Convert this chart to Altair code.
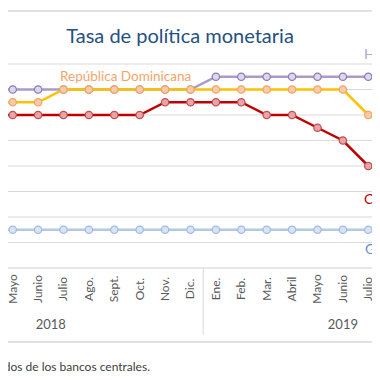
import altair as alt
import pandas as pd

# ---- data (month index 0 = Ene. 2018) ----
meses = ["Ene.", "Feb.", "Mar.", "Abril", "Mayo", "Junio", "Julio", "Ago.", "Sept.", "Oct.", "Nov.", "Dic.",
         "Ene.", "Feb.", "Mar.", "Abril", "Mayo", "Junio", "Julio", "Ago."]
indice = list(range(20))
honduras = [5.5, 5.5, 5.5, 5.5, 5.5, 5.5, 5.5, 5.5, 5.5, 5.5, 5.5, 5.5,
            5.75, 5.75, 5.75, 5.75, 5.75, 5.75, 5.75, 5.75]
rep_dominicana = [5.25, 5.25, 5.25, 5.25, 5.25, 5.25, 5.5, 5.5, 5.5, 5.5, 5.5, 5.5,
                  5.5, 5.5, 5.5, 5.5, 5.5, 5.5, 5.0, 4.75]
costa_rica = [5.0, 5.0, 5.0, 5.0, 5.0, 5.0, 5.0, 5.0, 5.0, 5.0, 5.25, 5.25,
              5.25, 5.25, 5.0, 5.0, 4.75, 4.5, 4.0, 4.0]
guatemala = [2.75, 2.75, 2.75, 2.75, 2.75, 2.75, 2.75, 2.75, 2.75, 2.75, 2.75, 2.75,
             2.75, 2.75, 2.75, 2.75, 2.75, 2.75, 2.75, 2.75]
anios = ["2018", "2019"]
anios_centro = [5.5, 17.0]
separador = [11.5]
grid_vals = [2.5, 3.0, 3.5, 4.0, 4.5, 5.0, 5.5, 6.0]
base_val = [2.0]
meses_visibles = (4, 18)  # labels shown inside the cropped frame

FONT = "Lato"
W, H = 364, 364

xscale = alt.Scale(domain=[3.815, 18.146], nice=False, zero=False)
yscale = alt.Scale(domain=[-0.039, 7.098], nice=False, zero=False)

series = [
    ("Honduras", honduras, "#a99bc9", "#ddd6ec", "#8a7db3"),
    ("República Dominicana", rep_dominicana, "#ffc000", "#f8cbad", "#f4a460"),
    ("Guatemala", guatemala, "#b4c7e7", "#dae3f3", "#9dbde3"),
    ("Costa Rica", costa_rica, "#c00000", "#e8a4a8", "#c0504d"),
]

layers = []

# gridlines
grid_df = pd.DataFrame({"v": grid_vals})
layers.append(alt.Chart(grid_df).mark_rule(color="#d9d9d9", strokeWidth=1).encode(
    y=alt.Y("v:Q", scale=yscale, axis=None), x=alt.value(0), x2=alt.value(W)))
base_df = pd.DataFrame({"v": base_val})
layers.append(alt.Chart(base_df).mark_rule(color="#d0d0d0", strokeWidth=1).encode(
    y=alt.Y("v:Q", scale=yscale, axis=None), x=alt.value(0), x2=alt.value(W)))

# outer frame lines
layers.append(alt.Chart(pd.DataFrame({"a": [0]})).mark_rule(color="#e0e0e0", strokeWidth=2).encode(
    y=alt.value(3), x=alt.value(0), x2=alt.value(W)))
layers.append(alt.Chart(pd.DataFrame({"a": [0]})).mark_rule(color="#e0e0e0", strokeWidth=2).encode(
    y=alt.value(334), x=alt.value(0), x2=alt.value(W)))

# year separator
sep_df = pd.DataFrame({"x": separador})
layers.append(alt.Chart(sep_df).mark_rule(color="#d9d9d9", strokeWidth=1).encode(
    x=alt.X("x:Q", scale=xscale, axis=None), y=alt.value(260), y2=alt.value(327)))

# series
for nombre, vals, lc, fc, sc in series:
    df = pd.DataFrame({"i": indice, "v": vals})
    enc = dict(x=alt.X("i:Q", scale=xscale, axis=None), y=alt.Y("v:Q", scale=yscale, axis=None))
    layers.append(alt.Chart(df).mark_line(color=lc, strokeWidth=2.5, clip=True).encode(**enc))
    layers.append(alt.Chart(df).mark_point(shape="circle", size=55, filled=True, fill=fc,
                                           stroke=sc, strokeWidth=1.2, opacity=1, clip=True).encode(**enc))

# month labels
mes_df = pd.DataFrame({"i": indice, "m": meses})
mes_df = mes_df[(mes_df.i >= meses_visibles[0]) & (mes_df.i <= meses_visibles[1])]
layers.append(alt.Chart(mes_df).mark_text(angle=270, align="center", baseline="middle", fontSize=12,
                                          font=FONT, color="#595959").encode(
    x=alt.X("i:Q", scale=xscale, axis=None), y=alt.value(281), text="m:N"))

# year labels
anio_df = pd.DataFrame({"i": anios_centro, "t": anios})
layers.append(alt.Chart(anio_df).mark_text(align="center", baseline="middle", fontSize=13,
                                           font=FONT, color="#595959").encode(
    x=alt.X("i:Q", scale=xscale, axis=None), y=alt.value(317), text="t:N"))

def label(txt, x, y, color, size=13, align="left", baseline="middle"):
    return alt.Chart(pd.DataFrame({"t": [txt]})).mark_text(
        align=align, baseline=baseline, fontSize=size, font=FONT, color=color).encode(
        x=alt.value(x), y=alt.value(y), text="t:N")

layers.append(label("Tasa de política monetaria", 172, 35, "#25507f", size=20, align="center",
                    baseline="alphabetic"))
layers.append(label("República Dominicana", 52, 69, "#f4a46a", size=13.5))
layers.append(label("Honduras", 356, 47, "#b4a7d6", size=14))
layers.append(label("Costa Rica", 356, 192, "#c00000", size=14))
layers.append(label("Guatemala", 357, 242, "#5b8fd0", size=14))
layers.append(label("Fuente: elaboración propia con base en datos tomados de los bancos centrales.",
                    142, 359, "#404040", size=12, align="right"))

chart = alt.layer(*layers).properties(
    width=W, height=H, autosize=alt.AutoSizeParams(type="none"), padding=0
).configure_view(stroke=None)

chart.save("out.html", embed_options={"renderer": "svg", "actions": False})
